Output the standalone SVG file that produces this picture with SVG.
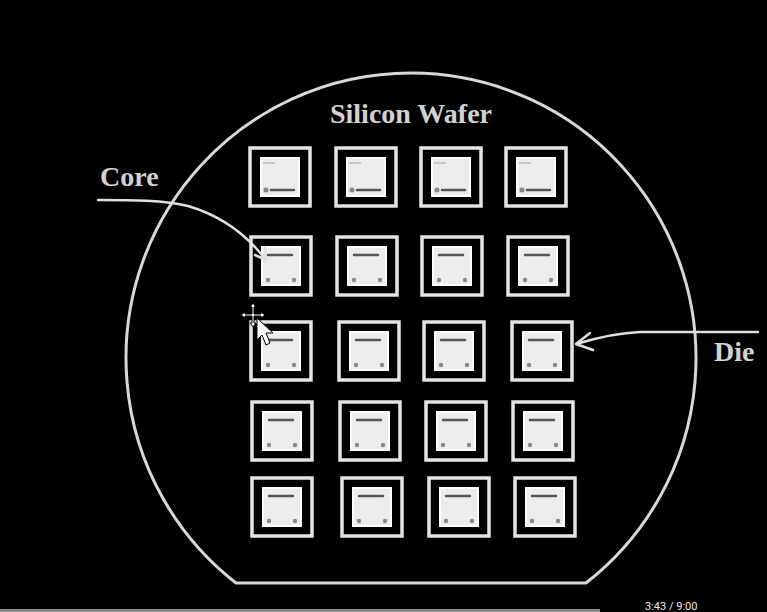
<svg xmlns="http://www.w3.org/2000/svg" width="767" height="612" viewBox="0 0 767 612">
<defs>
<style>
.lbl{font-family:"Liberation Serif","Times New Roman",serif;font-weight:bold;fill:#d2d2d2}
.wafer{fill:none;stroke:#d8d8d8;stroke-width:3}
.outer{fill:none;stroke:#e4e4e4;stroke-width:3.5}
.inner{fill:#ececec;stroke:#ffffff;stroke-width:2}
.bar{stroke:#555;stroke-width:2.5;stroke-linecap:round}
.dot{fill:#888}
.conn{fill:none;stroke:#e0e0e0;stroke-width:2.5;stroke-linecap:round;stroke-linejoin:round}
</style>
<g id="dieA">
<rect class="outer" x="0" y="0" width="60" height="58"/>
<rect class="inner" x="11" y="10" width="38" height="38"/>
<line class="bar" x1="17" y1="18" x2="41" y2="18"/>
<circle class="dot" cx="17" cy="43" r="2.2"/>
<circle class="dot" cx="43" cy="43" r="2.2"/>
</g>
<g id="dieB">
<rect class="outer" x="0" y="0" width="60" height="58"/>
<rect class="inner" x="11" y="10" width="38" height="38"/>
<line x1="13" y1="15" x2="25" y2="15" stroke="#bbb" stroke-width="1.5"/>
<circle class="dot" cx="16" cy="42" r="2.5" fill="#444"/>
<line class="bar" x1="21" y1="42" x2="44" y2="42"/>
</g>
</defs>
<rect width="767" height="612" fill="#000"/>
<g id="wafer">
<path class="wafer" d="M236,583 A285,285 0 1 1 586,583 Z"/>
<text class="lbl" x="411" y="123" font-size="28" text-anchor="middle">Silicon Wafer</text>
</g>
<g id="dies">
<g id="row1">
<use href="#dieB" x="250" y="148"/><use href="#dieB" x="336" y="148"/><use href="#dieB" x="421" y="148"/><use href="#dieB" x="506" y="148"/>
</g>
<g id="row2">
<use href="#dieA" x="251" y="237"/><use href="#dieA" x="337" y="237"/><use href="#dieA" x="422" y="237"/><use href="#dieA" x="508" y="237"/>
</g>
<g id="row3">
<use href="#dieA" x="251" y="322"/><use href="#dieA" x="339" y="322"/><use href="#dieA" x="424" y="322"/><use href="#dieA" x="512" y="322"/>
</g>
<g id="row4">
<use href="#dieA" x="252" y="402"/><use href="#dieA" x="340" y="402"/><use href="#dieA" x="426" y="402"/><use href="#dieA" x="513" y="402"/>
</g>
<g id="row5">
<use href="#dieA" x="252" y="478"/><use href="#dieA" x="342" y="478"/><use href="#dieA" x="429" y="478"/><use href="#dieA" x="515" y="478"/>
</g>
</g>
<g id="core-label"><text class="lbl" x="100" y="186" font-size="28">Core</text></g>
<g id="die-label"><text class="lbl" x="714" y="361" font-size="28">Die</text></g>
<g id="connectors">
<path class="conn" d="M98,200 C130,200 165,200 188,206 C222,216 246,234 265,259"/>
<path class="conn" d="M255,255 L266,260 L265,248"/>
<path class="conn" d="M758,332 L640,332 C615,333 596,338 576,344"/>
<path class="conn" d="M590,333 L576,344 L593,350"/>
</g>
<g id="cursor">
<g stroke="#000" stroke-width="1" fill="#fff">
<path d="M250,307 L253,303 L256,307 L254,307 L254,314 L261,314 L261,312 L265,315 L261,318 L261,316 L254,316 L254,323 L256,323 L253,327 L250,323 L252,323 L252,316 L245,316 L245,318 L241,315 L245,312 L245,314 L252,314 L252,307 Z"/>
<path d="M257,318 L257,340 L262,335 L266,345 L270,343 L266,333 L273,333 Z"/>
</g>
</g>
<g id="player">
<rect x="0" y="609" width="600" height="3" fill="#8a8a8a"/>
<text x="645" y="610" font-family="Roboto,'Liberation Sans',sans-serif" font-size="11" fill="#eee">3:43 / 9:00</text>
</g>
</svg>
